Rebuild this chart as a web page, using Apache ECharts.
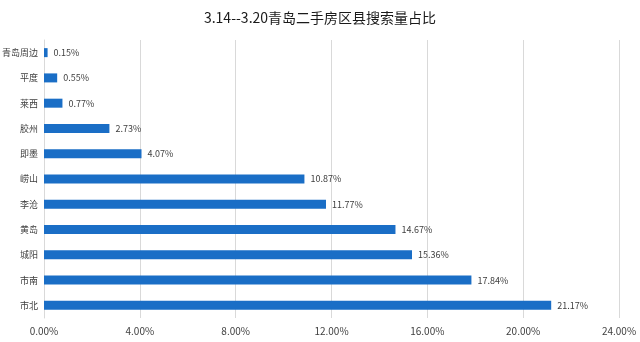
<!DOCTYPE html>
<html><head><meta charset="utf-8">
<script src="https://cdn.jsdelivr.net/npm/echarts@6/dist/echarts.min.js"></script>
<style>html,body{margin:0;padding:0;background:#fff}#c{width:640px;height:342px}</style>
</head><body><div id="c"></div>
<script>
const categories = ['市北','市南','城阳','黄岛','李沧','崂山','即墨','胶州','莱西','平度','青岛周边'];
const values = [21.17,17.84,15.36,14.67,11.77,10.87,4.07,2.73,0.77,0.55,0.15];
const xTicks = {min:0, max:24, interval:4};
const titleText = '3.14--3.20青岛二手房区县搜索量占比';
const font = '"Microsoft YaHei","Noto Sans CJK SC",sans-serif';
const chart = echarts.init(document.getElementById('c'), null, {renderer:'canvas'});
chart.setOption({
  animation:false,
  title:{text:titleText,left:'center',top:6,textStyle:{fontSize:14,fontWeight:'normal',color:'#1a1a1a',fontFamily:font}},
  grid:{left:44,right:21,top:40,bottom:24,containLabel:false,outerBoundsMode:'none'},
  xAxis:{type:'value',min:xTicks.min,max:xTicks.max,interval:xTicks.interval,
    axisLine:{show:false},axisTick:{show:false},
    splitLine:{show:true,lineStyle:{color:'#d9d9d9',width:1}},
    axisLabel:{formatter:v=>v.toFixed(2)+'%',color:'#404040',fontSize:10,fontFamily:font,margin:8}},
  yAxis:{type:'category',data:categories,
    axisLine:{show:true,lineStyle:{color:'#d9d9d9'}},axisTick:{show:false},
    axisLabel:{color:'#404040',fontSize:9,fontFamily:font,margin:6}},
  series:[{type:'bar',data:values,barWidth:9,itemStyle:{color:'#1a6ec6'},
    label:{show:true,position:'right',distance:6,formatter:p=>p.value.toFixed(2)+'%',color:'#404040',fontSize:9,fontFamily:font}}]
});
</script></body></html>
